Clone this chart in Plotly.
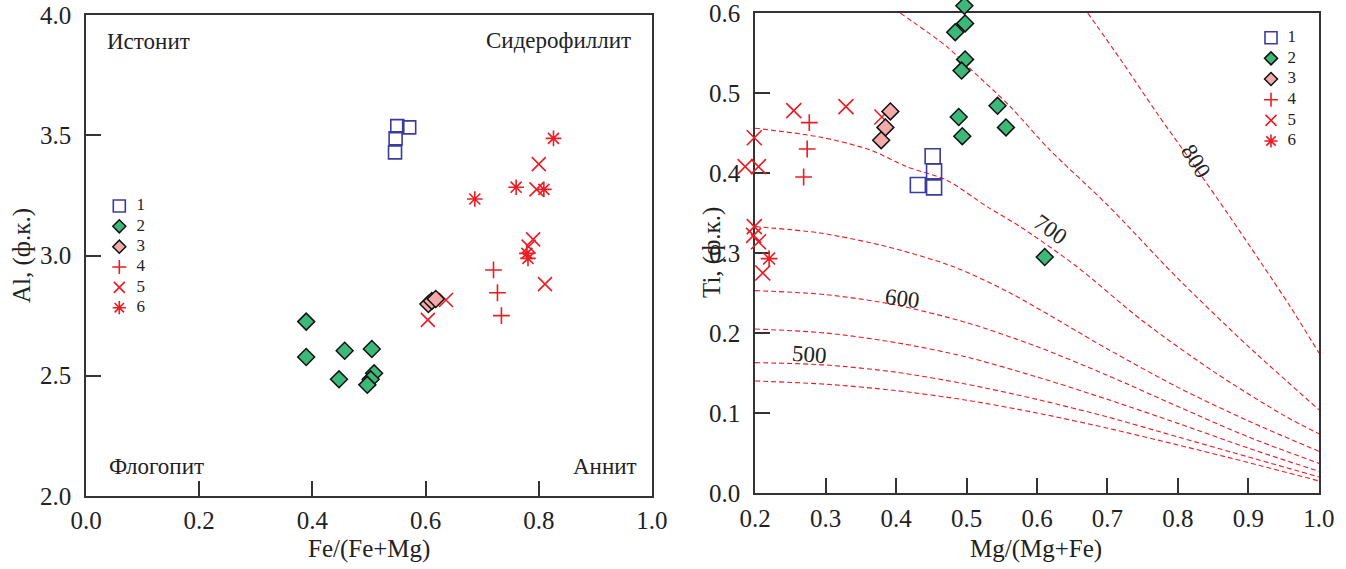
import plotly.graph_objects as go

W, H = 1346, 569
FONT = "Liberation Serif"
RED = "#ec1c24"
BLUE = "#3b3b9e"
GREEN = "#3cb878"
PINK = "#f4aaa9"
AX = "#333333"

# ---------------- left diagram: Fe/(Fe+Mg) vs Al ----------------
l1_x = [0.550, 0.571, 0.547, 0.546]
l1_y = [3.538, 3.533, 3.487, 3.429]
l2_x = [0.389, 0.389, 0.457, 0.505, 0.447, 0.509, 0.503, 0.497]
l2_y = [2.725, 2.578, 2.604, 2.611, 2.485, 2.510, 2.485, 2.462]
l3_x = [0.605, 0.611, 0.618]
l3_y = [2.798, 2.811, 2.819]
l4_x = [0.720, 0.727, 0.734]
l4_y = [2.940, 2.845, 2.750]
l5_x = [0.800, 0.796, 0.790, 0.782, 0.811, 0.636, 0.604]
l5_y = [3.380, 3.275, 3.067, 3.037, 2.881, 2.815, 2.732]
l6_x = [0.826, 0.760, 0.809, 0.687, 0.779, 0.781]
l6_y = [3.487, 3.284, 3.275, 3.235, 3.009, 2.988]
left_xticks = [0.0, 0.2, 0.4, 0.6, 0.8, 1.0]
left_yticks = [2.0, 2.5, 3.0, 3.5, 4.0]

# ---------------- right diagram: Mg/(Mg+Fe) vs Ti ----------------
r1_x = [0.452, 0.454, 0.431, 0.454]
r1_y = [0.421, 0.402, 0.385, 0.382]
r2_x = [0.497, 0.498, 0.484, 0.498, 0.493, 0.489, 0.494, 0.544, 0.556, 0.611]
r2_y = [0.609, 0.587, 0.576, 0.542, 0.528, 0.470, 0.446, 0.484, 0.457, 0.295]
r3_x = [0.392, 0.385, 0.379]
r3_y = [0.477, 0.457, 0.441]
r4_x = [0.277, 0.274, 0.269]
r4_y = [0.463, 0.430, 0.395]
r5_x = [0.380, 0.255, 0.329, 0.199, 0.186, 0.205, 0.199, 0.198, 0.205, 0.211]
r5_y = [0.470, 0.478, 0.483, 0.444, 0.408, 0.408, 0.333, 0.322, 0.314, 0.275]
r6_x = [0.220]
r6_y = [0.293]
right_xticks = [0.2, 0.3, 0.4, 0.5, 0.6, 0.7, 0.8, 0.9, 1.0]
right_yticks = [0.0, 0.1, 0.2, 0.3, 0.4, 0.5, 0.6]

# isotherms
iso_x = [0.2, 0.3, 0.4, 0.5, 0.6, 0.7, 0.8, 0.9, 1.0]
iso_450 = [0.140, 0.136, 0.128, 0.116, 0.100, 0.081, 0.060, 0.038, 0.015]
iso_500 = [0.163, 0.160, 0.151, 0.136, 0.117, 0.095, 0.070, 0.045, 0.020]
iso_550 = [0.205, 0.200, 0.188, 0.170, 0.145, 0.117, 0.087, 0.056, 0.027]
iso_600 = [0.253, 0.248, 0.235, 0.213, 0.183, 0.147, 0.108, 0.070, 0.037]
iso_650_x = [0.2, 0.292, 0.387, 0.481, 0.562, 0.7, 0.8, 0.9, 1.0]
iso_650 = [0.333, 0.325, 0.308, 0.283, 0.250, 0.180, 0.132, 0.090, 0.052]
iso_700_x = [0.2, 0.292, 0.363, 0.415, 0.472, 0.529, 0.576, 0.655, 0.75, 0.85, 0.95, 1.0]
iso_700 = [0.456, 0.445, 0.429, 0.408, 0.391, 0.358, 0.333, 0.284, 0.215, 0.152, 0.097, 0.074]
iso_750_x = [0.406, 0.472, 0.507, 0.562, 0.618, 0.7, 0.8, 0.9, 1.0]
iso_750 = [0.600, 0.558, 0.529, 0.483, 0.429, 0.360, 0.268, 0.183, 0.104]
iso_800_x = [0.672, 0.72, 0.77, 0.82, 0.87, 0.92, 0.96, 1.0]
iso_800 = [0.600, 0.540, 0.475, 0.413, 0.350, 0.285, 0.232, 0.175]
iso_labels = ["500", "600", "700", "800"]
iso_label_x = [0.277, 0.409, 0.619, 0.826]
iso_label_y = [0.173, 0.243, 0.329, 0.415]
iso_label_angle = [4, 7, 35, 58]

key_labels = ["1", "2", "3", "4", "5", "6"]
key_rank = [1, 2, 3, 4, 5, 6]

left_regions = ["Истонит", "Сидерофиллит", "Флогопит", "Аннит"]

styles = [
    dict(symbol="square-open", color=BLUE, line=dict(color=BLUE, width=1.6)),
    dict(symbol="diamond", color=GREEN, line=dict(color="#111111", width=1.5)),
    dict(symbol="diamond", color=PINK, line=dict(color="#111111", width=1.5)),
    dict(symbol="cross-thin-open", color=RED, line=dict(color=RED, width=1.6)),
    dict(symbol="x-thin-open", color=RED, line=dict(color=RED, width=1.6)),
    dict(symbol="asterisk-open", color=RED, line=dict(color=RED, width=1.6)),
]
left_sizes = [13, 13, 13, 12, 14, 13]
right_sizes = [15, 13, 13, 12, 15, 14]
key_sizes = [12, 10, 10, 10, 11, 11]
draw_order = [3, 4, 5, 0, 1, 2]   # red symbols underneath the filled ones

# pixel geometry of the two frames
L_X0, L_X1, L_Y0, L_Y1 = 86, 652, 496, 15
R_X0, R_X1, R_Y0, R_Y1 = 755, 1319, 493, 13
R_XPU = (R_X1 - R_X0) / 0.8   # px per x unit
R_YPU = (R_Y0 - R_Y1) / 0.6   # px per y unit
EXT_X, EXT_Y = 0.03, 0.015    # extension of marker layer of right plot


def px_x(p):
    return p / W


def px_y(p):
    return 1 - p / H


fig = go.Figure()

left_sets = [(l1_x, l1_y), (l2_x, l2_y), (l3_x, l3_y), (l4_x, l4_y), (l5_x, l5_y), (l6_x, l6_y)]
right_sets = [(r1_x, r1_y), (r2_x, r2_y), (r3_x, r3_y), (r4_x, r4_y), (r5_x, r5_y), (r6_x, r6_y)]

# isotherm curves (clipped to the right frame)
for xs, ys in [(iso_x, iso_450), (iso_x, iso_500), (iso_x, iso_550), (iso_x, iso_600),
               (iso_650_x, iso_650), (iso_700_x, iso_700), (iso_750_x, iso_750), (iso_800_x, iso_800)]:
    fig.add_trace(go.Scatter(x=xs, y=ys, mode="lines", xaxis="x2", yaxis="y2",
                             line=dict(color=RED, width=1.1, dash="5px,3px", shape="spline", smoothing=0.8),
                             showlegend=False, hoverinfo="skip"))

for i in draw_order:
    xs, ys = left_sets[i]
    st = styles[i]
    fig.add_trace(go.Scatter(x=xs, y=ys, mode="markers", xaxis="x", yaxis="y",
                             name=key_labels[i], showlegend=False, cliponaxis=False,
                             marker=dict(symbol=st["symbol"], size=left_sizes[i], color=st["color"], line=st["line"])))
# right-plot markers on a same-scale layer slightly larger than the frame (points spill past the frame)
for i in draw_order:
    xs, ys = right_sets[i]
    st = styles[i]
    fig.add_trace(go.Scatter(x=xs, y=ys, mode="markers", xaxis="x5", yaxis="y5",
                             name=key_labels[i], showlegend=False, cliponaxis=False,
                             marker=dict(symbol=st["symbol"], size=right_sizes[i], color=st["color"], line=st["line"])))

# keys (legends) drawn on hidden axes
for xa, ya in [("x3", "y3"), ("x4", "y4")]:
    for i in range(6):
        st = styles[i]
        fig.add_trace(go.Scatter(x=[0], y=[key_rank[i]], mode="markers", xaxis=xa, yaxis=ya,
                                 showlegend=False, cliponaxis=False, hoverinfo="skip",
                                 marker=dict(symbol=st["symbol"], size=key_sizes[i], color=st["color"], line=st["line"])))
    fig.add_trace(go.Scatter(x=[1] * 6, y=key_rank, mode="text", text=key_labels, xaxis=xa, yaxis=ya,
                             textposition="middle center", cliponaxis=False, showlegend=False, hoverinfo="skip",
                             textfont=dict(family=FONT, size=17, color="#222222")))

axis_common = dict(showline=True, mirror=True, linecolor=AX, linewidth=1.6, ticks="inside", ticklen=15,
                   tickwidth=1.5, tickcolor=AX, showgrid=False, zeroline=False, automargin=False,
                   layer="below traces", tickmode="array", ticklabeloverflow="allow",
                   tickfont=dict(family=FONT, size=25, color="#222222"), tickformat=".1f")
hidden = dict(visible=False, automargin=False, showgrid=False, zeroline=False)

fig.update_layout(
    width=W, height=H, margin=dict(l=0, r=0, t=0, b=0, autoexpand=False),
    font=dict(family=FONT, color="#222222"),
    paper_bgcolor="white", plot_bgcolor="rgba(0,0,0,0)", showlegend=False,
    xaxis=dict(domain=[px_x(L_X0), px_x(L_X1)], range=[-0.0001, 1.0001], tickvals=left_xticks, anchor="y",
               ticklabelstandoff=1, **axis_common),
    yaxis=dict(domain=[px_y(L_Y0), px_y(L_Y1)], range=[1.9998, 4.0002], tickvals=left_yticks, anchor="x",
               ticklabelstandoff=8, **axis_common),
    xaxis2=dict(domain=[px_x(R_X0), px_x(R_X1)], range=[0.19995, 1.00005], tickvals=right_xticks, anchor="y2",
                ticklabelstandoff=2, **axis_common),
    yaxis2=dict(domain=[px_y(R_Y0), px_y(R_Y1)], range=[-0.00005, 0.60005], tickvals=right_yticks, anchor="x2",
                ticklabelstandoff=8, **axis_common),
    xaxis3=dict(domain=[px_x(119.3), px_x(140.7)], range=[0, 1], anchor="y3", **hidden),
    yaxis3=dict(domain=[px_y(307.7), px_y(206)], range=[6, 1], anchor="x3", **hidden),
    xaxis4=dict(domain=[px_x(1271), px_x(1291.7)], range=[0, 1], anchor="y4", **hidden),
    yaxis4=dict(domain=[px_y(141), px_y(37.7)], range=[6, 1], anchor="x4", **hidden),
    xaxis5=dict(domain=[px_x(R_X0 - EXT_X * R_XPU), px_x(R_X1)], range=[0.2 - EXT_X, 1.0], anchor="y5", **hidden),
    yaxis5=dict(domain=[px_y(R_Y0), px_y(R_Y1 - EXT_Y * R_YPU)], range=[0.0, 0.6 + EXT_Y], anchor="x5", **hidden),
)

ann = []


def text_ann(txt, cx, cy, size, angle=0):
    return dict(text=txt, x=px_x(cx), y=px_y(cy), xref="paper", yref="paper", showarrow=False,
                xanchor="center", yanchor="middle", textangle=angle,
                font=dict(family=FONT, size=size, color="#222222"))


# region names in the left diagram
for txt, (cx, cy) in zip(left_regions, [(148, 41), (558, 40), (156, 466), (605, 466)]):
    ann.append(text_ann(txt, cx, cy, 23))
# axis titles
ann.append(text_ann("Fe/(Fe+Mg)", 369, 549, 25))
ann.append(text_ann("Al, (ф.к.)", 22, 256, 25, -90))
ann.append(text_ann("Mg/(Mg+Fe)", 1036, 549, 25))
ann.append(text_ann("Ti, (ф.к.)", 712, 253, 25, -90))
# isotherm labels
for t, x, y, a in zip(iso_labels, iso_label_x, iso_label_y, iso_label_angle):
    ann.append(dict(text=t, x=x, y=y, xref="x2", yref="y2", showarrow=False, textangle=a,
                    xanchor="center", yanchor="middle",
                    font=dict(family=FONT, size=23, color="#222222")))
fig.update_layout(annotations=ann)

fig.write_html("out.html")
